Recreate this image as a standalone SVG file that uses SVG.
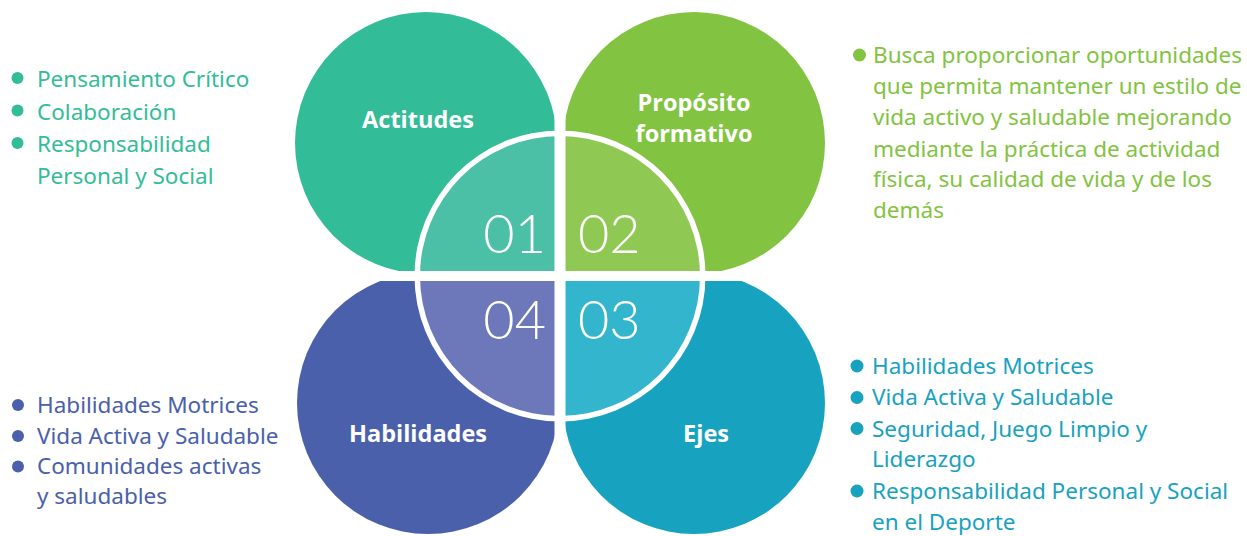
<svg xmlns="http://www.w3.org/2000/svg" width="1247" height="536" viewBox="0 0 1247 536">
<style>
.lbl{font-family:"Open Sans","Noto Sans",sans-serif;font-weight:700;font-size:23.5px;fill:#fff;text-anchor:middle}
.num{font-family:Lato,Inter,sans-serif;font-weight:300;font-size:54px;fill:#fff}
.body{font-family:"Noto Sans","Open Sans",sans-serif;font-size:22.5px}
.c1{fill:#33BC98}.c2{fill:#82C341}.c3{fill:#17A2BF}.c4{fill:#4A60AB}
</style>
<rect width="1247" height="536" fill="#fff"/>
<g id="circles">
<circle id="c-actitudes" cx="426" cy="143" r="131" class="c1"/>
<circle id="c-proposito" cx="694" cy="143" r="131" class="c2"/>
<circle id="c-habilidades" cx="428" cy="403" r="131" class="c4"/>
<circle id="c-ejes" cx="694" cy="403" r="131" class="c3"/>
</g>
<g id="center">
<circle cx="560" cy="276" r="145.5" fill="#fff"/>
<path d="M560,276 L420,276 A140,140 0 0 1 560,136 Z" fill="#4BC0A6"/>
<path d="M560,276 L560,136 A140,140 0 0 1 700,276 Z" fill="#8FC852"/>
<path d="M560,276 L700,276 A140,140 0 0 1 560,416 Z" fill="#33B5CD"/>
<path d="M560,276 L560,416 A140,140 0 0 1 420,276 Z" fill="#6C78B9"/>
<rect x="554.5" y="0" width="11" height="536" fill="#fff"/>
<rect x="280" y="271" width="560" height="10" fill="#fff"/>
</g>
<g id="node-01">
<text class="lbl" x="418" y="128">Actitudes</text>
<text class="num" x="546" y="253" text-anchor="end">01</text>
</g>
<g id="node-02">
<text class="lbl" x="694" y="111">Propósito</text>
<text class="lbl" x="694" y="142">formativo</text>
<text class="num" x="578" y="253">02</text>
</g>
<g id="node-03">
<text class="lbl" x="706" y="442">Ejes</text>
<text class="num" x="578" y="339">03</text>
</g>
<g id="node-04">
<text class="lbl" x="418" y="442">Habilidades</text>
<text class="num" x="546" y="339" text-anchor="end">04</text>
</g>
<g id="list-actitudes" class="body c1">
<circle cx="17.5" cy="78" r="6"/>
<circle cx="17.5" cy="110.5" r="6"/>
<circle cx="17.5" cy="143" r="6"/>
<text x="37" y="87">Pensamiento Crítico</text>
<text x="37" y="119.5">Colaboración</text>
<text x="37" y="152">Responsabilidad</text>
<text x="37" y="184">Personal y Social</text>
</g>
<g id="list-proposito" class="body c2">
<circle cx="859.5" cy="55" r="6.5"/>
<text x="873" y="63">Busca proporcionar oportunidades</text>
<text x="873" y="94">que permita mantener un estilo de</text>
<text x="873" y="125">vida activo y saludable mejorando</text>
<text x="873" y="156.5">mediante la práctica de actividad</text>
<text x="873" y="187">física, su calidad de vida y de los</text>
<text x="873" y="218">demás</text>
</g>
<g id="list-ejes" class="body c3">
<circle cx="857" cy="366" r="6.5"/>
<circle cx="857" cy="397.5" r="6.5"/>
<circle cx="857" cy="428.5" r="6.5"/>
<circle cx="857" cy="491" r="6.5"/>
<text x="872" y="373.5">Habilidades Motrices</text>
<text x="872" y="405">Vida Activa y Saludable</text>
<text x="872" y="436.5">Seguridad, Juego Limpio y</text>
<text x="872" y="467">Liderazgo</text>
<text x="872" y="498.5">Responsabilidad Personal y Social</text>
<text x="872" y="530">en el Deporte</text>
</g>
<g id="list-habilidades" class="body c4">
<circle cx="18" cy="405" r="6"/>
<circle cx="18" cy="436" r="6"/>
<circle cx="18" cy="466.5" r="6"/>
<text x="37" y="413">Habilidades Motrices</text>
<text x="37" y="443.5">Vida Activa y Saludable</text>
<text x="37" y="474">Comunidades activas</text>
<text x="37" y="504">y saludables</text>
</g>
</svg>
